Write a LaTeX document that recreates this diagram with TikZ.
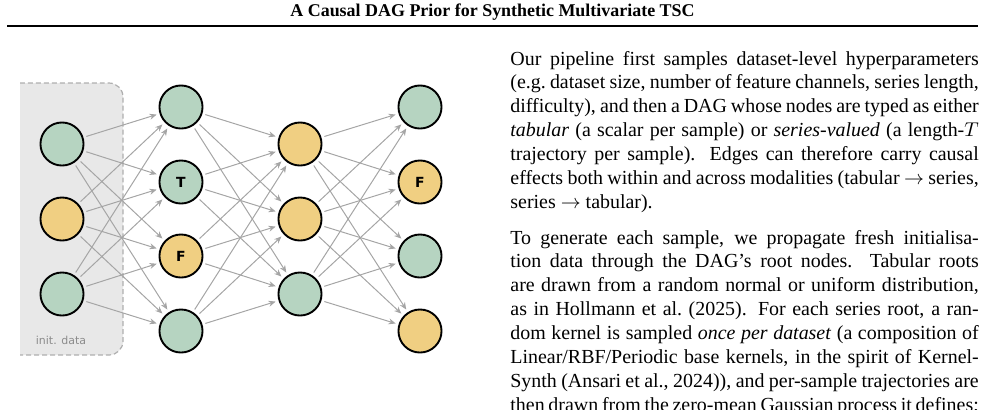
\documentclass[tikz,border=0pt]{standalone}
\usepackage{fontspec}
\setmainfont{Liberation Serif}
\newfontfamily\dejavu{DejaVu Sans}
\usetikzlibrary{arrows.meta}
\definecolor{nodegreen}{RGB}{182,212,193}
\definecolor{nodeyellow}{RGB}{240,207,130}
\definecolor{edgegray}{RGB}{165,165,165}
\definecolor{boxfill}{RGB}{232,232,232}
\definecolor{boxline}{RGB}{175,175,175}
\definecolor{labelgray}{RGB}{140,140,140}
\newcommand{\jline}[1]{\makebox[234.9pt][s]{#1}}
\begin{document}
\begin{tikzpicture}[x=0.5015pt,y=-0.5015pt,
  dagnode/.style={circle, draw=black, line width=0.95pt, minimum size=21.6pt, inner sep=0pt,
    font=\dejavu\bfseries\fontsize{7}{7}\selectfont},
  gnode/.style={dagnode, fill=nodegreen},
  ynode/.style={dagnode, fill=nodeyellow},
  edge/.style={draw=edgegray, line width=0.5pt, -{Stealth[length=3.6pt,width=3pt]},
    shorten <=1.5pt, shorten >=1.5pt},
  txt/.style={anchor=base west, inner sep=0pt, font=\fontsize{10}{12}\selectfont},
  initbox/.style={fill=boxfill, draw=boxline, line width=0.6pt, dash pattern=on 2.5pt off 1.5pt, rounded corners=7pt}]
\useasboundingbox (0,0) rectangle (988,409);

% header
\node[anchor=base, inner sep=0pt, font=\bfseries\fontsize{9}{11}\selectfont] (title) at (492.5,16)
  {A Causal DAG Prior for Synthetic Multivariate TSC};
\draw[line width=1pt] (7,25.7) -- (978,25.7);

% init data box
\path[initbox] (20,83) -- (123,83) -- (123,355) -- (20,355);
\node[font=\dejavu\fontsize{5.5}{6}\selectfont, text=labelgray, inner sep=0pt] (initlabel) at (61,340) {init. data};

% nodes
\node[gnode] (a1) at (62,144) {};
\node[ynode] (a2) at (62,219) {};
\node[gnode] (a3) at (62,294) {};
\node[gnode] (b1) at (181,107) {};
\node[gnode] (b2) at (181,182) {T};
\node[ynode] (b3) at (181,256) {F};
\node[gnode] (b4) at (181,331) {};
\node[ynode] (c1) at (300,144) {};
\node[ynode] (c2) at (300,219) {};
\node[gnode] (c3) at (300,294) {};
\node[gnode] (d1) at (420,107) {};
\node[ynode] (d2) at (420,182) {F};
\node[gnode] (d3) at (420,256) {};
\node[ynode] (d4) at (420,331) {};

% edges
\foreach \s in {a1,a2,a3} \foreach \t in {b1,b2,b3,b4} \draw[edge] (\s) -- (\t);
\foreach \s in {b1,b2,b3,b4} \foreach \t in {c1,c2,c3} \draw[edge] (\s) -- (\t);
\foreach \s in {c1,c2,c3} \foreach \t in {d1,d2,d3,d4} \draw[edge] (\s) -- (\t);

% paragraph 1
\node[txt] (pa1) at (510,65) {\jline{Our pipeline first samples dataset-level hyperparameters}};
\node[txt] (pa2) at (510,88.93) {\jline{(e.g.\ dataset size, number of feature channels, series length,}};
\node[txt] (pa3) at (510,112.86) {\jline{difficulty), and then a DAG whose nodes are typed as either}};
\node[txt] (pa4) at (510,136.79) {\jline{\textit{tabular} (a scalar per sample) or \textit{series-valued} (a length-$T$}};
\node[txt] (pa5) at (510,160.72) {\jline{trajectory per sample). Edges can therefore carry causal}};
\node[txt] (pa6) at (510,184.65) {\jline{effects both within and across modalities (tabular $\to$ series,}};
\node[txt] (pa7) at (510,208.58) {series $\to$ tabular).};

% paragraph 2
\node[txt] (pb1) at (510,244) {\jline{To generate each sample, we propagate fresh initialisa-}};
\node[txt] (pb2) at (510,267.93) {\jline{tion data through the DAG's root nodes. Tabular roots}};
\node[txt] (pb3) at (510,291.86) {\jline{are drawn from a random normal or uniform distribution,}};
\node[txt] (pb4) at (510,315.79) {\jline{as in Hollmann et al.\ (2025). For each series root, a ran-}};
\node[txt] (pb5) at (510,339.72) {\jline{dom kernel is sampled \textit{once per dataset} (a composition of}};
\node[txt] (pb6) at (510,363.65) {\jline{Linear/RBF/Periodic base kernels, in the spirit of Kernel-}};
\node[txt] (pb7) at (510,387.58) {\jline{Synth (Ansari et al., 2024)), and per-sample trajectories are}};
\node[txt] (pb8) at (510,411.51) {\jline{then drawn from the zero-mean Gaussian process it defines;}};
\end{tikzpicture}
\end{document}
